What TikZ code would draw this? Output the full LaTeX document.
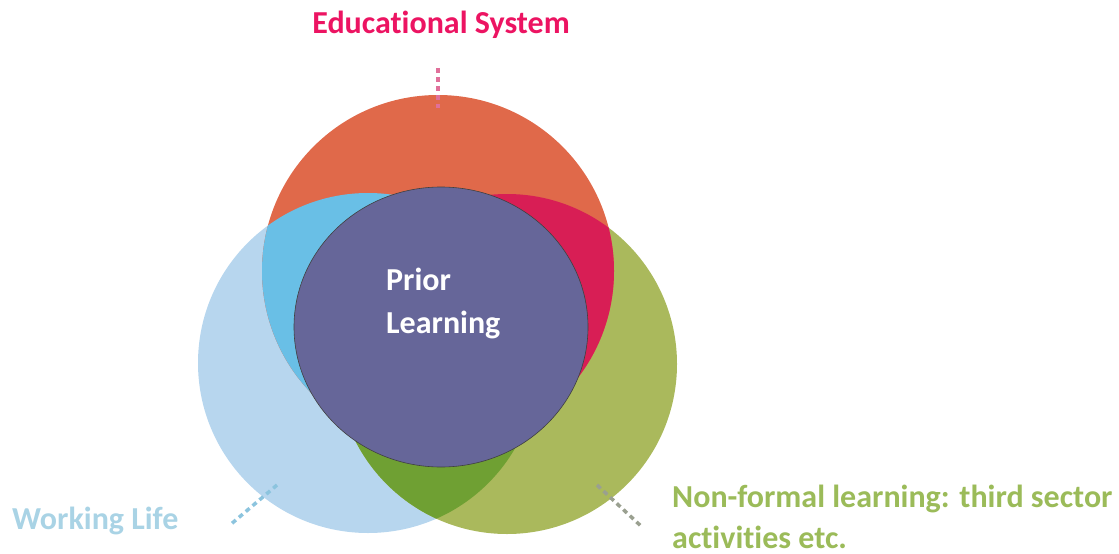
\documentclass[tikz,border=0pt]{standalone}
\usepackage{fontspec}
\setmainfont{Carlito}[Ligatures={NoCommon}]
\definecolor{cred}{HTML}{E0694A}
\definecolor{cblue}{HTML}{B7D6EE}
\definecolor{cgreen}{HTML}{AAB95C}
\definecolor{crb}{HTML}{69BFE6}
\definecolor{crg}{HTML}{D81E55}
\definecolor{cbg}{HTML}{6FA033}
\definecolor{cpurple}{HTML}{666699}
\definecolor{tpink}{HTML}{EC1462}
\definecolor{tblue}{HTML}{A9D3E5}
\definecolor{tgreen}{HTML}{9BBB59}
\definecolor{dpink}{HTML}{E0709A}
\definecolor{dblue}{HTML}{8CC4DE}
\definecolor{dgray}{HTML}{9AA090}
\begin{document}
\begin{tikzpicture}[x=1pt,y=-1pt,
  lbl/.style={font=\bfseries\fontsize{32}{43}\selectfont, inner sep=0pt, align=left},
  dashline/.style={line width=3.5pt, dash pattern=on 5pt off 4pt}]
\useasboundingbox (0,0) rectangle (1119,554);
\coordinate (R) at (438,271);
\coordinate (B) at (368,363);
\coordinate (G) at (507,364);
% base circles
\fill[cblue] (B) circle[radius=170pt];
\fill[cgreen] (G) circle[radius=170pt];
\fill[cred] (R) circle[radius=176pt];
% overlaps
\begin{scope}
  \clip (R) circle[radius=176pt];
  \fill[crb] (B) circle[radius=170pt];
\end{scope}
\begin{scope}
  \clip (R) circle[radius=176pt];
  \fill[crg] (G) circle[radius=170pt];
\end{scope}
\begin{scope}
  \clip (B) circle[radius=170pt];
  \fill[cbg] (G) circle[radius=170pt];
\end{scope}
% centre ellipse
\draw[fill=cpurple, draw=black!75, line width=0.6pt] (441,327) ellipse[x radius=147pt, y radius=140pt];
% texts (base anchor = last line)
\node[lbl, text=white, anchor=base west] (prior) at (386,333) {Prior\\Learning};
\node[lbl, text=tpink, anchor=base] (edu) at (441,33) {Educational System};
\node[lbl, text=tblue, anchor=base west] (work) at (12,529) {Working Life};
\node[lbl, text=tgreen, anchor=base west, font=\bfseries\fontsize{32}{41}\selectfont] (nonf) at (672,548) {Non-formal learning: third sector\\activities etc.};
% dashed connectors
\coordinate (e1) at (438,68);
\coordinate (e2) at (438,108);
\coordinate (w1) at (277,485);
\coordinate (w2) at (230,525);
\coordinate (n1) at (597,485);
\coordinate (n2) at (642,527);
\draw[dashline, dpink] (e1) -- (e2);
\draw[dashline, dblue] (w1) -- (w2);
\draw[dashline, dgray] (n1) -- (n2);
\end{tikzpicture}
\end{document}
